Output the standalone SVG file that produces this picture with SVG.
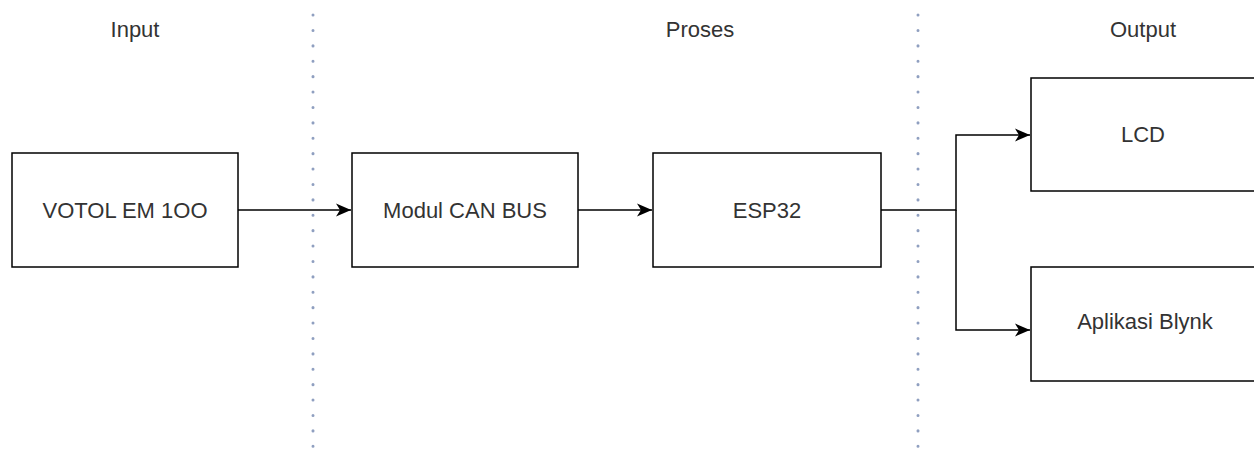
<svg xmlns="http://www.w3.org/2000/svg" width="1254" height="455" viewBox="0 0 1254 455">
<defs>
<style>
.box{fill:#fff;stroke:#000;stroke-width:1.5}
.lbl{font-family:"Liberation Sans",Arial,sans-serif;font-size:22px;fill:#333;text-anchor:middle;dominant-baseline:central}
.hdr{font-family:"Liberation Sans",Arial,sans-serif;font-size:22px;fill:#333;text-anchor:middle;dominant-baseline:central}
.sep{stroke:#8f9fc0;stroke-width:3;stroke-dasharray:0.1 15.3;stroke-linecap:round;fill:none}
.edge{stroke:#000;stroke-width:1.5;fill:none}
</style>
<marker id="arr" markerWidth="16" markerHeight="14" viewBox="0 0 16 14" refX="15" refY="7" orient="auto" markerUnits="userSpaceOnUse">
<path d="M0,0.5 L15,7 L0,13.5 L4,7 Z" fill="#000"/>
</marker>
</defs>
<rect width="1254" height="455" fill="#fff"/>
<g id="separators">
<line class="sep" x1="313" y1="15" x2="313" y2="455"/>
<line class="sep" x1="918" y1="15" x2="918" y2="455"/>
</g>
<g id="headers">
<text class="hdr" x="135" y="29">Input</text>
<text class="hdr" x="700" y="29">Proses</text>
<text class="hdr" x="1143" y="29">Output</text>
</g>
<g id="connectors">
<path class="edge" d="M238,210 H351" marker-end="url(#arr)"/>
<path class="edge" d="M578,210 H652" marker-end="url(#arr)"/>
<path class="edge" d="M881,210 H956 V135 H1030" marker-end="url(#arr)"/>
<path class="edge" d="M956,210 V330 H1030" marker-end="url(#arr)"/>
</g>
<g id="votol">
<rect class="box" x="12" y="153" width="226" height="114"/>
<text class="lbl" x="125" y="210">VOTOL EM 1OO</text>
</g>
<g id="canbus">
<rect class="box" x="352" y="153" width="226" height="114"/>
<text class="lbl" x="465" y="210">Modul CAN BUS</text>
</g>
<g id="esp32">
<rect class="box" x="653" y="153" width="228" height="114"/>
<text class="lbl" x="767" y="210">ESP32</text>
</g>
<g id="lcd">
<rect class="box" x="1031" y="78" width="228" height="113"/>
<text class="lbl" x="1143" y="134">LCD</text>
</g>
<g id="blynk">
<rect class="box" x="1031" y="267" width="228" height="114"/>
<text class="lbl" x="1145" y="321">Aplikasi Blynk</text>
</g>
</svg>
